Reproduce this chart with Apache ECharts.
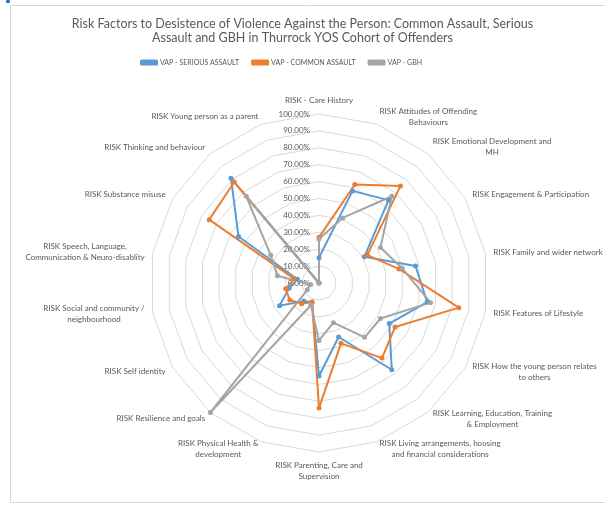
<!DOCTYPE html>
<html>
<head>
<meta charset="utf-8">
<script src="https://cdn.jsdelivr.net/npm/echarts@6/dist/echarts.min.js"></script>
<style>
  html, body { margin: 0; padding: 0; background: #ffffff; }
  #chart { width: 605px; height: 506px; }
</style>
</head>
<body>
<div id="chart"></div>
<script>
// Risk factor categories, in clockwise order starting from the top spoke
const categories = [
  'RISK - Care History',
  'RISK Attitudes of Offending\nBehaviours',
  'RISK Emotional Development and\nMH',
  'RISK Engagement & Participation',
  'RISK Family and wider network',
  'RISK Features of Lifestyle',
  'RISK How the young person relates\nto others',
  'RISK Learning, Education, Training\n& Employment',
  'RISK Living arrangements, housing\nand financial considerations',
  'RISK Parenting, Care and\nSupervision',
  'RISK Physical Health &\ndevelopment',
  'RISK Resilience and goals',
  'RISK Self identity',
  'RISK Social and community /\nneighbourhood',
  'RISK Speech, Language,\nCommunication & Neuro-disablity',
  'RISK Substance misuse',
  'RISK Thinking and behaviour',
  'RISK Young person as a parent'
];

const titleLines = [
  'Risk Factors to Desistence of Violence Against the Person: Common Assault, Serious',
  'Assault and GBH in Thurrock YOS Cohort of Offenders'
];

const seriesNames = ['VAP - SERIOUS ASSAULT', 'VAP - COMMON ASSAULT', 'VAP - GBH'];

// Percentage of each cohort flagged for each risk factor
const seriousAssault = [15, 58, 64, 31, 58, 65, 48, 67, 34, 55, 12, 14, 27, 18, 13, 55, 81, 0];
const commonAssault  = [27, 62, 75, 33, 48, 84, 52, 58, 38, 74, 12, 16, 20, 20, 15, 75, 78, 0];
const gbh            = [26, 41, 67, 42, 50, 67, 42, 42, 25, 34, 14, 100, 8, 5, 25, 33, 67, 0];

// Radial scale
const scaleMin = 0;
const scaleMax = 100;
const scaleStep = 10;

const seriesColors = ['#5B9BD5', '#ED7D31', '#A5A5A5'];
const textColor = '#595959';
const fontFamily = 'Lato, "Open Sans", sans-serif';

// ECharts lays radar spokes out counter-clockwise; reorder so they run clockwise.
const order = categories.map((_, i) => (i === 0 ? 0 : categories.length - i));
const reorder = arr => order.map(i => arr[i]);

// Wrap each line in a centred rich-text run so multi-line blocks are centred line by line
const centredLines = text => text.split('\n').map(l => '{c|' + l + '}').join('\n');

const cx = 319, cy = 283, radius = 169;
const labelSize = 8;

const chart = echarts.init(document.getElementById('chart'), null, { renderer: 'canvas' });

chart.setOption({
  backgroundColor: '#ffffff',
  animation: false,
  title: {
    text: centredLines(titleLines.join('\n')),
    left: 'center',
    top: 12,
    textStyle: {
      color: textColor,
      fontFamily: fontFamily,
      fontSize: 12.5,
      fontWeight: 'normal',
      lineHeight: 14,
      rich: {
        c: { align: 'center', color: textColor, fontFamily: fontFamily, fontSize: 12.5, lineHeight: 14 }
      }
    }
  },
  legend: {
    top: 54,
    left: 135,
    itemWidth: 18,
    itemHeight: 6,
    itemGap: 12,
    data: seriesNames,
    textStyle: { color: textColor, fontFamily: fontFamily, fontSize: 7, padding: [0, 0, 0, -3] }
  },
  graphic: [
    {
      type: 'rect',
      shape: { x: 10.5, y: 5.5, width: 610, height: 497 },
      style: { fill: 'none', stroke: '#D9D9D9', lineWidth: 1 },
      silent: true
    },
    {
      type: 'rect',
      shape: { x: 6, y: 0, width: 4, height: 3, r: 1 },
      style: { fill: '#2E75B6' },
      silent: true
    }
  ],
  radar: {
    center: [cx, cy],
    radius: radius,
    startAngle: 90,
    shape: 'polygon',
    splitNumber: (scaleMax - scaleMin) / scaleStep,
    nameGap: 8,
    axisName: {
      color: textColor,
      fontFamily: fontFamily,
      fontSize: labelSize,
      formatter: name => centredLines(name),
      rich: {
        c: { align: 'center', color: textColor, fontFamily: fontFamily, fontSize: labelSize, lineHeight: 11 }
      }
    },
    axisLine: { show: false },
    axisTick: { show: false },
    axisLabel: { show: false },
    splitArea: { show: false },
    splitLine: { lineStyle: { color: '#D9D9D9', width: 1 } },
    indicator: reorder(categories).map(name => ({ name: name, min: scaleMin, max: scaleMax }))
  },
  // Percentage scale printed along the top spoke
  grid: { left: cx, top: cy - radius, width: 1, height: radius },
  xAxis: { type: 'value', show: false },
  yAxis: {
    type: 'value',
    min: scaleMin,
    max: scaleMax,
    interval: scaleStep,
    axisLine: { show: false },
    axisTick: { show: false },
    splitLine: { show: false },
    axisLabel: {
      margin: 9,
      color: textColor,
      fontFamily: fontFamily,
      fontSize: labelSize,
      formatter: v => v.toFixed(2) + '%'
    }
  },
  series: [{
    type: 'radar',
    symbol: 'circle',
    symbolSize: 5,
    data: [seriousAssault, commonAssault, gbh].map((vals, k) => ({
      name: seriesNames[k],
      value: reorder(vals),
      lineStyle: { color: seriesColors[k], width: 2 },
      itemStyle: { color: seriesColors[k] }
    }))
  }],
  color: seriesColors
});
</script>
</body>
</html>
